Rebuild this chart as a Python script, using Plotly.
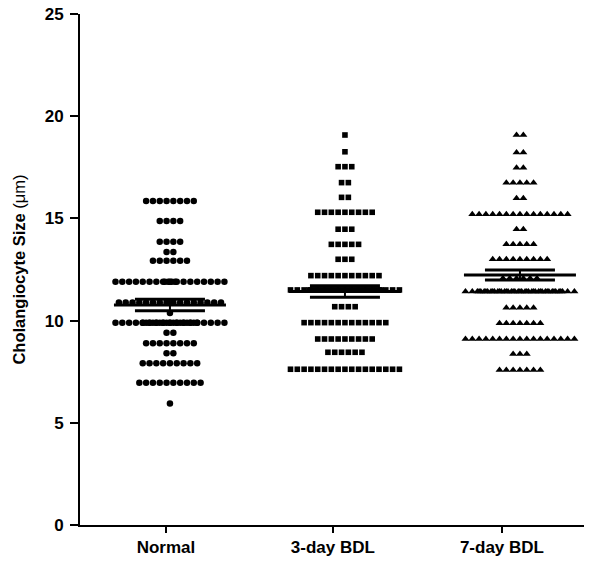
import plotly.graph_objects as go

categories = ["Normal", "3-day BDL", "7-day BDL"]

normal_levels = [15.85, 14.87, 13.86, 13.36, 12.93, 11.90, 10.88, 10.37, 9.90, 9.41, 8.89, 8.40, 7.91, 6.96, 5.95]
normal_counts = [8, 4, 4, 2, 6, 21, 16, 1, 34, 2, 8, 2, 9, 10, 1]

bdl3_levels = [19.08, 18.26, 17.53, 16.75, 16.03, 15.30, 14.47, 13.73, 13.00, 12.20, 11.50, 10.68, 9.90, 9.10, 8.45, 7.62]
bdl3_counts = [1, 1, 3, 2, 2, 9, 3, 5, 3, 11, 39, 4, 13, 9, 6, 17]

bdl7_levels = [19.08, 18.23, 17.48, 16.75, 15.98, 15.20, 14.47, 13.73, 13.00, 12.07, 11.42, 10.63, 9.87, 9.10, 8.37, 7.58]
bdl7_counts = [2, 2, 2, 5, 2, 15, 2, 5, 9, 6, 43, 5, 7, 17, 3, 7]

means = [10.76, 11.42, 12.23]
sems = [0.28, 0.28, 0.24]

y_ticks = [0, 5, 10, 15, 20, 25]

groups = [(normal_levels, normal_counts), (bdl3_levels, bdl3_counts), (bdl7_levels, bdl7_counts)]
symbols = ["circle", "square", "triangle-up"]
sizes = [6.5, 5.6, 7]

# layout constants (pixel geometry of the original figure)
DOT_STEP = 0.0389      # horizontal spacing between neighbouring points, in x units
CAP = 17               # points per row before they start to overlap
tick_pos = [-0.023, 0.931, 1.897]


def row_offsets(n):
    m = min(n, CAP)
    offs = [(i - (m - 1) / 2) * DOT_STEP for i in range(m)]
    r = n - m
    offs += [(i - (r - 1) / 2) * DOT_STEP * 0.5 for i in range(r)]
    return offs


fig = go.Figure()

for gi, (levels, counts) in enumerate(groups):
    xs, ys = [], []
    for lv, c in zip(levels, counts):
        for o in row_offsets(c):
            xs.append(gi + o)
            ys.append(lv)
    fig.add_trace(go.Scatter(
        x=xs, y=ys, mode="markers",
        marker=dict(symbol=symbols[gi], size=sizes[gi], color="black", line=dict(width=0)),
        showlegend=False, hoverinfo="skip"))

for gi in range(3):
    m, s = means[gi], sems[gi]
    fig.add_trace(go.Scatter(x=[gi - 0.32, gi + 0.32], y=[m, m], mode="lines",
                             line=dict(color="black", width=3), showlegend=False, hoverinfo="skip"))
    for v in (m - s, m + s):
        fig.add_trace(go.Scatter(x=[gi - 0.2, gi + 0.2], y=[v, v], mode="lines",
                                 line=dict(color="black", width=3), showlegend=False, hoverinfo="skip"))
    fig.add_trace(go.Scatter(x=[gi, gi], y=[m - s, m + s], mode="lines",
                             line=dict(color="black", width=2), showlegend=False, hoverinfo="skip"))

font_family = "Liberation Sans, Arial, sans-serif"

fig.update_layout(
    width=603, height=567,
    margin=dict(l=80, r=19, t=14, b=42),
    paper_bgcolor="white", plot_bgcolor="white",
    font=dict(family=font_family, color="black"),
    hovermode=False,
    xaxis=dict(
        range=[-0.514, 2.366], showgrid=False, zeroline=False, automargin=False,
        showline=True, linecolor="black", linewidth=2,
        tickmode="array", tickvals=tick_pos, ticktext=categories,
        ticks="outside", ticklen=6, tickwidth=2, tickcolor="black",
        ticklabelstandoff=0,
        tickfont=dict(size=17, weight="bold", family=font_family),
    ),
    yaxis=dict(
        range=[0, 25], showgrid=False, zeroline=False, automargin=False,
        showline=True, linecolor="black", linewidth=2,
        tickmode="array", tickvals=y_ticks,
        ticks="outside", ticklen=8, tickwidth=2, tickcolor="black",
        ticklabelstandoff=3,
        tickfont=dict(size=17, weight="bold", family=font_family),
        title=dict(text="<b>Cholangiocyte Size </b>(μm)", font=dict(size=16.5, family=font_family), standoff=15),
    ),
)

fig.write_html("out.html", config={"displayModeBar": False},
               post_script="document.body.style.margin='0';")
